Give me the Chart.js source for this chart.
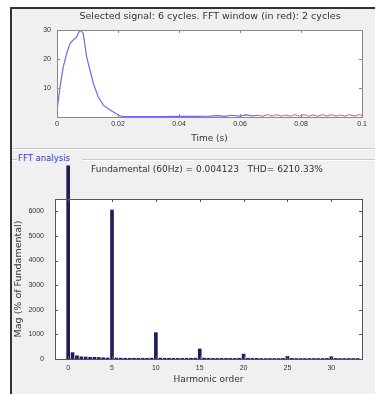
<!DOCTYPE html>
<html>
<head>
<meta charset="utf-8">
<script src="https://cdn.jsdelivr.net/npm/chart.js@4.4.0/dist/chart.umd.min.js"></script>
<style>
  body { margin: 0; background: #fff; width: 375px; height: 394px; overflow: hidden; font-family: "DejaVu Sans", sans-serif; }
  #frame { position: absolute; left: 10px; top: 7px; width: 365px; height: 387px; background: #f0f0f0; border-top: 2px solid #333; border-left: 2px solid #333; }
  .sep { position: absolute; height: 1px; background: #c8c8c8; border-bottom: 1px solid #fff; }
  #fftLabel { position: absolute; left: 18px; top: 153px; font-size: 8.5px; color: #3838c0; }
  .ptitle { position: absolute; width: 360px; text-align: center; color: #333; white-space: pre; line-height: 12px; }
  #topWrap { position: absolute; left: 12px; top: 8px; width: 360px; height: 139px; }
  #fftWrap { position: absolute; left: 12px; top: 160px; width: 360px; height: 234px; }
</style>
</head>
<body>
<div id="frame"></div>
<div class="sep" style="left:12px; top:148px; width:363px;"></div>
<div class="sep" style="left:12px; top:159px; width:5px;"></div>
<div class="sep" style="left:82px; top:159px; width:293px;"></div>
<div id="fftLabel">FFT analysis</div>
<div id="topWrap"><canvas id="topChart" width="360" height="139"></canvas></div>
<div id="fftWrap"><canvas id="fftChart" width="360" height="234"></canvas></div>
<div class="ptitle" style="left:30px; top:10px; font-size:9.5px;">Selected signal: 6 cycles. FFT window (in red): 2 cycles</div>
<div class="ptitle" style="left:27px; top:163px; font-size:9px;">Fundamental (60Hz) = 0.004123   THD= 6210.33%</div>
<script>
// Selected signal (blue part), time in s
var sigTime = [0, 0.001, 0.002, 0.0032, 0.0043, 0.0053, 0.0065, 0.0075, 0.0086, 0.0097, 0.0108, 0.0119, 0.0135, 0.0152, 0.0174, 0.0201, 0.0216, 0.025, 0.03, 0.035, 0.04, 0.045, 0.05, 0.053, 0.055, 0.057, 0.06, 0.062, 0.064, 0.066];
var sigValue = [2.4, 10.4, 17, 22, 25.4, 26.5, 27.7, 30, 28.9, 20.8, 16.2, 11.6, 7, 4.1, 2.4, 0.7, 0.1, 0.1, 0.1, 0.1, 0.2, 0.2, 0.3, 0.5, 0.2, 0.6, 0.3, 0.7, 0.4, 0.6];
// FFT window (red part)
var winTime = [0.066, 0.0675, 0.069, 0.0705, 0.072, 0.0735, 0.075, 0.0765, 0.078, 0.0795, 0.081, 0.0825, 0.084, 0.0855, 0.087, 0.0885, 0.09, 0.0915, 0.093, 0.0945, 0.096, 0.0975, 0.099, 0.1];
var winValue = [0.6, 0.3, 0.8, 0.3, 0.8, 0.3, 0.7, 0.3, 0.8, 0.3, 0.8, 0.3, 0.7, 0.3, 0.8, 0.3, 0.8, 0.3, 0.7, 0.3, 0.8, 0.3, 0.8, 0.5];
var topXTicks = [0, 0.02, 0.04, 0.06, 0.08, 0.1];
var topYTicks = [10, 20, 30];

// FFT: harmonic order and magnitude (% of fundamental)
var harmOrder = [0, 0.5, 1, 1.5, 2, 2.5, 3, 3.5, 4, 4.5, 5, 5.5, 6, 6.5, 7, 7.5, 8, 8.5, 9, 9.5, 10, 10.5, 11, 11.5, 12, 12.5, 13, 13.5, 14, 14.5, 15, 15.5, 16, 16.5, 17, 17.5, 18, 18.5, 19, 19.5, 20, 20.5, 21, 21.5, 22, 22.5, 23, 23.5, 24, 24.5, 25, 25.5, 26, 26.5, 27, 27.5, 28, 28.5, 29, 29.5, 30, 30.5, 31, 31.5, 32, 32.5, 33];
var harmMag = [7850, 260, 130, 90, 80, 70, 70, 60, 50, 40, 6050, 40, 35, 30, 30, 30, 30, 30, 30, 35, 1070, 35, 30, 30, 30, 25, 25, 30, 30, 35, 410, 35, 30, 25, 25, 25, 25, 25, 25, 30, 200, 30, 25, 25, 20, 20, 20, 20, 20, 25, 110, 25, 20, 20, 20, 20, 20, 20, 20, 25, 90, 25, 20, 20, 20, 20, 20];
var fftXTicks = [0, 5, 10, 15, 20, 25, 30];
var fftYTicks = [0, 1000, 2000, 3000, 4000, 5000, 6000];

Chart.defaults.font.family = '"Liberation Sans", Arial, sans-serif';
Chart.defaults.font.size = 7;
Chart.defaults.color = '#333';

var labelFont = { family: '"DejaVu Sans", sans-serif', size: 9, weight: 'normal' };

function toPoints(xs, ys) {
    var pts = [];
    for (var i = 0; i < xs.length; i++) pts.push({ x: xs[i], y: ys[i] });
    return pts;
}

// box and inward ticks, matlab style
var boxPlugin = {
    id: 'box',
    afterDraw: function (chart, args, opts) {
        var ctx = chart.ctx, a = chart.chartArea;
        var xs = chart.scales.x, ys = chart.scales.y;
        ctx.save();
        ctx.strokeStyle = opts.color || '#555';
        ctx.lineWidth = 1;
        ctx.strokeRect(Math.round(a.left) + 0.5, Math.round(a.top) + 0.5, Math.round(a.right - a.left), Math.round(a.bottom - a.top));
        ctx.beginPath();
        xs.ticks.forEach(function (t) {
            var px = Math.round(xs.getPixelForValue(t.value)) + 0.5;
            ctx.moveTo(px, a.bottom); ctx.lineTo(px, a.bottom - 3);
            ctx.moveTo(px, a.top); ctx.lineTo(px, a.top + 3);
        });
        ys.ticks.forEach(function (t) {
            var py = Math.round(ys.getPixelForValue(t.value)) + 0.5;
            ctx.moveTo(a.left, py); ctx.lineTo(a.left + 3, py);
            ctx.moveTo(a.right, py); ctx.lineTo(a.right - 3, py);
        });
        ctx.stroke();
        ctx.restore();
    }
};

var whiteBg = {
    id: 'whiteBg',
    beforeDraw: function (chart) {
        var a = chart.chartArea;
        chart.ctx.save();
        chart.ctx.fillStyle = '#fff';
        chart.ctx.fillRect(a.left, a.top, a.right - a.left, a.bottom - a.top);
        chart.ctx.restore();
    }
};

new Chart(document.getElementById('topChart'), {
    type: 'line',
    data: {
        datasets: [{
            data: toPoints(sigTime, sigValue),
            borderColor: '#6a6af0',
            borderWidth: 1.2,
            pointRadius: 0,
            tension: 0
        }, {
            data: toPoints(winTime, winValue),
            borderColor: '#e05050',
            borderWidth: 1,
            pointRadius: 0,
            tension: 0.4
        }]
    },
    options: {
        responsive: false,
        animation: false,
        layout: { padding: { top: 22, right: 10 } },
        plugins: {
            legend: { display: false },
            tooltip: { enabled: false },
            box: { color: '#888' }
        },
        scales: {
            x: {
                type: 'linear',
                min: 0, max: 0.1,
                afterBuildTicks: function (s) { s.ticks = topXTicks.map(function (v) { return { value: v }; }); },
                afterFit: function (s) { s.height = 30; },
                ticks: { padding: 3, maxRotation: 0, callback: function (v) { return String(v); } },
                grid: { display: false, drawTicks: false },
                border: { display: false },
                title: { display: true, text: 'Time (s)', font: labelFont, padding: { top: 1, bottom: 3 } }
            },
            y: {
                min: 0, max: 30,
                afterBuildTicks: function (s) { s.ticks = topYTicks.map(function (v) { return { value: v }; }); },
                afterFit: function (s) { s.width = 45; },
                ticks: { padding: 6 },
                grid: { display: false, drawTicks: false },
                border: { display: false }
            }
        }
    },
    plugins: [whiteBg, boxPlugin]
});

new Chart(document.getElementById('fftChart'), {
    type: 'bar',
    data: {
        datasets: [{
            data: toPoints(harmOrder, harmMag),
            backgroundColor: '#1e1e5c',
            barThickness: 3,
            clip: false
        }]
    },
    options: {
        responsive: false,
        animation: false,
        layout: { padding: { top: 39, right: 10 } },
        plugins: {
            legend: { display: false },
            tooltip: { enabled: false },
            box: { color: '#555' }
        },
        scales: {
            x: {
                type: 'linear',
                min: -1.5, max: 33.5,
                offset: false,
                afterBuildTicks: function (s) { s.ticks = fftXTicks.map(function (v) { return { value: v }; }); },
                afterFit: function (s) { s.height = 35; },
                ticks: { padding: 5, maxRotation: 0 },
                grid: { display: false, offset: false, drawTicks: false },
                border: { display: false },
                title: { display: true, text: 'Harmonic order', font: labelFont, padding: { top: 2, bottom: 9 } }
            },
            y: {
                min: 0, max: 6500,
                afterBuildTicks: function (s) { s.ticks = fftYTicks.map(function (v) { return { value: v }; }); },
                afterFit: function (s) { s.width = 43; },
                ticks: { padding: 11, callback: function (v) { return String(v); } },
                grid: { display: false, drawTicks: false },
                border: { display: false },
                title: { display: true, text: 'Mag (% of Fundamental)', font: { family: '"DejaVu Sans", sans-serif', size: 9.5 }, padding: { top: 1, bottom: 2 } }
            }
        }
    },
    plugins: [whiteBg, boxPlugin]
});
</script>
</body>
</html>
